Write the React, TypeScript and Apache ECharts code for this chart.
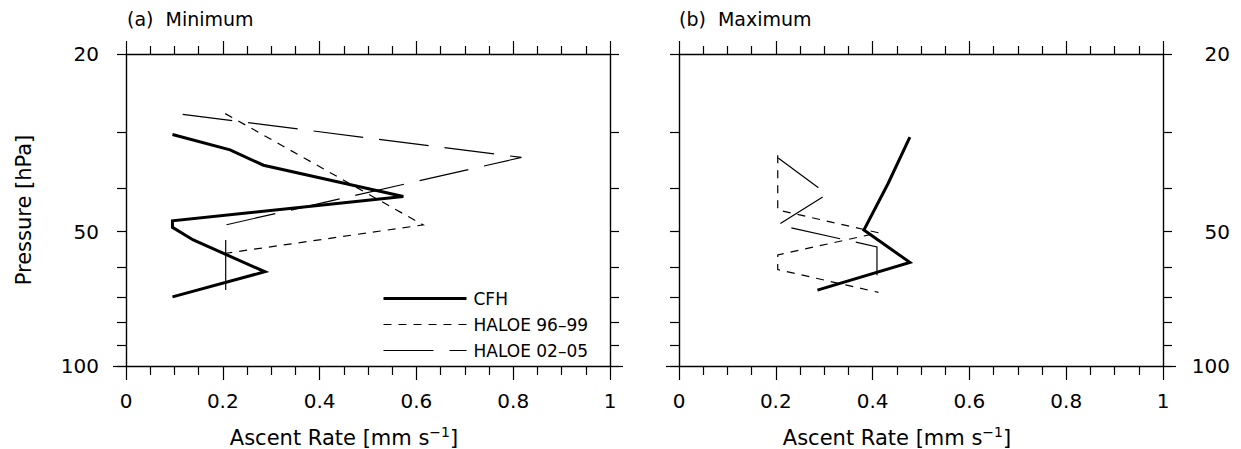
import React, { useEffect, useRef } from "react";
import * as echarts from "echarts";

// Ascent rate [mm/s] and pressure [hPa] per profile
const cfhMinRate = [0.096, 0.215, 0.284, 0.573, 0.096, 0.096, 0.139, 0.287, 0.096];
const cfhMinPres = [30.3, 32.8, 35.5, 41.7, 47.3, 48.9, 52.2, 61.5, 70.0];
const h96MinRate = [0.205, 0.614, 0.206];
const h96MinPres = [27.2, 48.3, 55.9];
const h02MinRate = [0.117, 0.817, 0.206, 0.206];
const h02MinPres = [27.3, 34.1, 48.3, 68.3];

const cfhMaxRate = [0.477, 0.432, 0.382, 0.477, 0.286];
const cfhMaxPres = [30.7, 39.0, 49.6, 58.6, 67.6];
const h96MaxRate = [0.204, 0.204, 0.412, 0.204, 0.204, 0.412];
const h96MaxPres = [33.7, 44.7, 50.3, 56.4, 60.8, 68.4];
const h02MaxRate = [0.205, 0.306, 0.205, 0.409, 0.409];
const h02MaxPres = [34.2, 41.2, 48.3, 54.1, 63.5];

const seriesNames = ["CFH", "HALOE 96–99", "HALOE 02–05"];
const panelTitles = ["(a)  Minimum", "(b)  Maximum"];
const pressureTicks = [20, 30, 40, 50, 60, 70, 80, 90, 100];
const pressureLabels = [20, 50, 100];
const decadeTicks = [100];

const FONT = "DejaVu Sans";
const INK = "#000";

const styles = [
  { width: 3, type: "solid" as any },
  { width: 1.2, type: [8, 7] as any },
  { width: 1.2, type: [50, 16] as any },
];

function pairs(x: number[], y: number[]) {
  return x.map((v, i) => [v, y[i]]);
}

export default function App() {
  const ref = useRef<HTMLDivElement>(null);

  useEffect(() => {
    if (!ref.current) return;
    const chart = echarts.init(ref.current, null, { renderer: "svg" });

    const grids = [
      { left: 126, top: 54, width: 484, height: 312, containLabel: false, outerBoundsMode: "none" },
      { left: 679, top: 54, width: 484, height: 312, containLabel: false, outerBoundsMode: "none" },
    ];

    const xAxis: any[] = [];
    const yAxis: any[] = [];
    grids.forEach((_, g) => {
      const base = {
        gridIndex: g,
        type: "value",
        min: 0,
        max: 1,
        interval: 0.2,
        splitLine: { show: false },
        axisLine: { lineStyle: { color: INK, width: 1.4 } },
      };
      xAxis.push({
        ...base,
        position: "bottom",
        axisTick: { length: 14, lineStyle: { color: INK, width: 1.2 } },
        minorTick: { show: true, splitNumber: 4, length: 9, lineStyle: { color: INK, width: 1.2 } },
        axisLabel: { margin: 25, fontFamily: FONT, fontSize: 20, color: INK },
        name: "{t|Ascent Rate [mm s}{s|−1}{t|]}",
        nameLocation: "middle",
        nameGap: 59,
        nameTextStyle: {
          padding: [0, 48, 0, 0],
          rich: {
            t: { fontFamily: FONT, fontSize: 21, color: INK },
            s: { fontFamily: FONT, fontSize: 14, color: INK, padding: [0, 0, 12, 0] },
          },
        },
      });
      xAxis.push({
        ...base,
        position: "top",
        axisTick: { length: 13, lineStyle: { color: INK, width: 1.2 } },
        minorTick: { show: true, splitNumber: 4, length: 8, lineStyle: { color: INK, width: 1.2 } },
        axisLabel: { show: false },
      });

      const yBase = {
        gridIndex: g,
        type: "log",
        logBase: 10,
        min: 20,
        max: 100,
        inverse: true,
        splitLine: { show: false },
        axisLine: { lineStyle: { color: INK, width: 1.4 } },
      };
      ["left", "right"].forEach((pos) => {
        const labelled = (g === 0 && pos === "left") || (g === 1 && pos === "right");
        yAxis.push({
          ...yBase,
          position: pos,
          axisTick: { length: 9, customValues: pressureTicks, lineStyle: { color: INK, width: 1.2 } },
          axisLabel: labelled
            ? {
                show: true,
                customValues: pressureLabels,
                fontFamily: FONT,
                fontSize: 20,
                color: INK,
                margin: pos === "left" ? 27 : 67,
                align: "right",
              }
            : { show: false },
          ...(g === 0 && pos === "left"
            ? {
                name: "Pressure [hPa]",
                nameLocation: "middle",
                nameRotate: 90,
                nameGap: 92,
                nameTextStyle: { fontFamily: FONT, fontSize: 21, color: INK },
              }
            : {}),
        });
        // longer tick at the decade
        yAxis.push({
          ...yBase,
          position: pos,
          axisLine: { show: false },
          axisTick: { length: 13, customValues: decadeTicks, lineStyle: { color: INK, width: 1.2 } },
          axisLabel: { show: false },
        });
      });
    });

    const panels = [
      [pairs(cfhMinRate, cfhMinPres), pairs(h96MinRate, h96MinPres), pairs(h02MinRate, h02MinPres)],
      [pairs(cfhMaxRate, cfhMaxPres), pairs(h96MaxRate, h96MaxPres), pairs(h02MaxRate, h02MaxPres)],
    ];

    const series: any[] = [];
    panels.forEach((profiles, g) => {
      profiles.forEach((data, k) => {
        series.push({
          type: "line",
          name: seriesNames[k],
          xAxisIndex: g * 2,
          yAxisIndex: g * 4,
          data,
          symbol: "none",
          silent: true,
          z: 3 - k,
          itemStyle: { color: INK },
          lineStyle: { color: INK, width: styles[k].width, type: styles[k].type, join: "miter" },
        });
      });
    });

    chart.setOption({
      animation: false,
      backgroundColor: "#fff",
      title: panelTitles.map((t, i) => ({
        text: t,
        left: i === 0 ? 127 : 679,
        top: 9,
        padding: 0,
        textStyle: { fontFamily: FONT, fontSize: 19, fontWeight: "normal", color: INK },
      })),
      grid: grids,
      xAxis,
      yAxis,
      legend: {
        left: 382,
        top: 290,
        orient: "vertical",
        padding: 0,
        itemWidth: 83,
        itemHeight: 14,
        itemGap: 9,
        selectedMode: false,
        textStyle: { fontFamily: FONT, fontSize: 17, color: INK, padding: [0, 0, 0, 2] },
        data: seriesNames.map((n, k) => ({
          name: n,
          itemStyle: { opacity: 0 },
          lineStyle: { color: INK, width: styles[k].width, type: styles[k].type, opacity: 1 },
        })),
      },
      series,
    });

    return () => chart.dispose();
  }, []);

  return (
    <div
      ref={ref}
      style={{ position: "fixed", left: 0, top: 0, width: 1241, height: 449, background: "#fff" }}
    />
  );
}
